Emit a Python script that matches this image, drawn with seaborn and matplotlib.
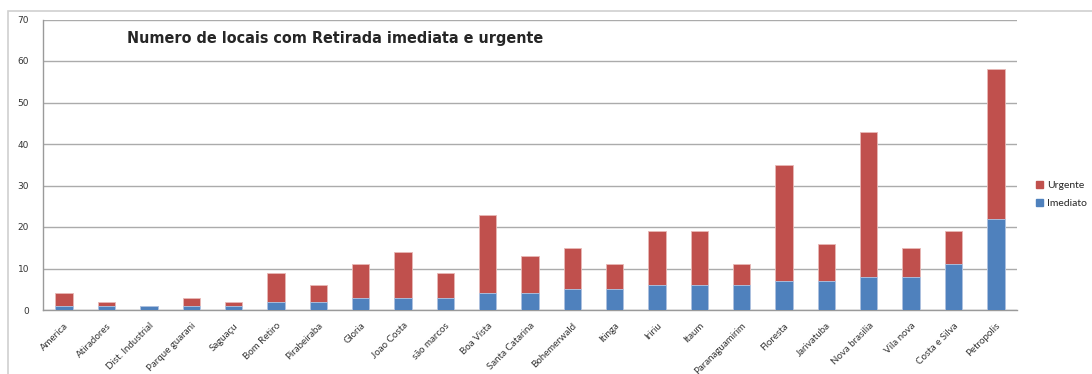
"""
Numero de locais com Retirada imediata e urgente
Gráfico de barras empilhadas por bairro
"""

import numpy as np
import pandas as pd
import matplotlib.pyplot as plt
import seaborn as sns
from matplotlib.ticker import MultipleLocator, FixedLocator
from matplotlib.patches import Rectangle, Patch

# ========== 数据 ==========
bairros = ['America', 'Atiradores', 'Dist. Industrial', 'Parque guarani', 'Saguaçu',
           'Bom Retiro', 'Pirabeiraba', 'Gloria', 'Joao Costa', 'são marcos',
           'Boa Vista', 'Santa Catarina', 'Bohemerwald', 'Itinga', 'Iririu',
           'Itaum', 'Paranaguamirim', 'Floresta', 'Jarivatuba', 'Nova brasilia',
           'Vila nova', 'Costa e Silva', 'Petropolis']
imediato = [1, 1, 1, 1, 1, 2, 2, 3, 3, 3, 4, 4, 5, 5, 6, 6, 6, 7, 7, 8, 8, 11, 22]
urgente = [3, 1, 0, 2, 1, 7, 4, 8, 11, 6, 19, 9, 10, 6, 13, 13, 5, 28, 9, 35, 7, 8, 36]
y_ticks = [0, 10, 20, 30, 40, 50, 60, 70]
# =========================

df = pd.DataFrame({'bairro': bairros, 'Imediato': imediato, 'Urgente': urgente})
df['total'] = df['Imediato'] + df['Urgente']

cor_imediato = '#4F81BD'
cor_urgente = '#C0504D'

sns.set_style("white")
plt.rcParams['font.family'] = ['Lato', 'DejaVu Sans']

fig = plt.figure(figsize=(10.92, 3.74), dpi=100)
ax = fig.add_axes([43 / 1092, 1 - 310 / 374, (1017 - 43) / 1092, (310 - 19.5) / 374])

# 边框
fig.patches.append(Rectangle((8 / 1092, -0.1), 1.2, 1 - 11.5 / 374 + 0.1,
                             transform=fig.transFigure, fill=False,
                             edgecolor='#D0D0D0', linewidth=1.2))

# 堆叠柱状图：先画总数（红），再画立即（蓝）
sns.barplot(data=df, x='bairro', y='total', color=cor_urgente, saturation=1,
            width=0.41, edgecolor='#E8B8B6', linewidth=0.6, ax=ax, zorder=3)
sns.barplot(data=df, x='bairro', y='Imediato', color=cor_imediato, saturation=1,
            width=0.41, edgecolor='#B0C8E6', linewidth=0.6, ax=ax, zorder=4)

ax.set_xlim(-0.5, len(bairros) - 0.5)
ax.set_ylim(0, 70)
ax.set_xlabel('')
ax.set_ylabel('')

# 网格与坐标轴
ax.yaxis.set_major_locator(FixedLocator(y_ticks))
ax.grid(axis='y', color='#ABABAB', linewidth=1.0, zorder=0)
ax.set_axisbelow(True)
for s in ['top', 'right']:
    ax.spines[s].set_visible(False)
for s in ['left', 'bottom']:
    ax.spines[s].set_color('#9A9A9A')
    ax.spines[s].set_linewidth(1.0)

ax.set_yticks(y_ticks)
ax.set_yticklabels([str(v) for v in y_ticks], family='DejaVu Sans', fontsize=6.5)
ax.tick_params(axis='y', colors='#333333', length=4, width=0.8,
               color='#9A9A9A', pad=6)
ax.set_xticks(range(len(bairros)))
ax.set_xticklabels(bairros, rotation=45, ha='right', rotation_mode='anchor',
                   fontsize=7, color='#333333')
ax.tick_params(axis='x', which='major', length=0, pad=8)
ax.xaxis.set_minor_locator(MultipleLocator(1, offset=0.5))
ax.tick_params(axis='x', which='minor', length=4, width=0.8, color='#9A9A9A')

# 标题
ax.text(0.086, 0.919, 'Numero de locais com Retirada imediata e urgente',
        transform=ax.transAxes, fontsize=11.5, fontweight='bold',
        fontstretch='condensed', family='DejaVu Sans', ha='left', va='baseline')

# 图例
handles = [Patch(color=cor_urgente), Patch(color=cor_imediato)]
fig.legend(handles, ['Urgente', 'Imediato'], loc='upper left',
           bbox_to_anchor=(1036 / 1092, 1 - 181 / 374), frameon=False,
           fontsize=7.5, handlelength=0.7, handleheight=0.7, handletextpad=0.4,
           labelspacing=0.85, borderaxespad=0, borderpad=0)

plt.savefig('out.png', dpi=100)
plt.close()
